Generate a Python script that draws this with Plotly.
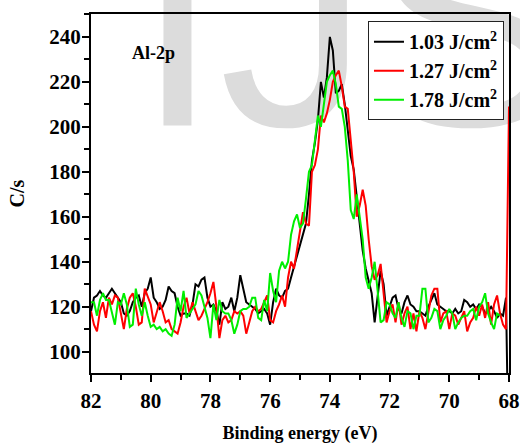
import numpy as np
import plotly.graph_objects as go

# Binding energy axis (eV), 0.1 eV steps from 82.0 down to 68.0
energy = [round(82.0 - 0.1 * i, 1) for i in range(141)]

series_names = ["1.03 J/cm<sup>2</sup>", "1.27 J/cm<sup>2</sup>", "1.78 J/cm<sup>2</sup>"]
series_colors = ["#000000", "#ff0000", "#00ee00"]

cps_103 = [
    118, 124, 125, 127, 125, 124, 126, 128, 126, 124,
    122, 117, 116, 118, 122, 124, 125, 120, 126, 128,
    133, 124, 122, 119, 120, 123, 129, 127, 126, 120,
    116, 117, 117, 116, 121, 130, 129, 132, 133, 124,
    120, 121, 118, 112, 122, 119, 120, 124, 118, 124,
    134, 128, 122, 121, 120, 119, 117, 118, 119, 117,
    112, 122, 128, 125, 124, 127, 128, 133, 138, 142,
    148, 153, 157, 170, 185, 193, 203, 220, 213, 222,
    240, 234, 215, 216, 219, 210, 198, 187, 181, 168,
    157, 145, 137, 131, 126, 113, 124, 136, 130, 116,
    120, 124, 125, 119, 117, 122, 125, 121, 120, 118,
    118, 117, 116, 120, 123, 126, 121, 120, 119, 118,
    118, 117, 119, 117, 118, 123, 122, 120, 121, 119,
    121, 120, 117, 118, 120, 118, 115, 117, 116, 124,
    40,
]

cps_127 = [
    118, 112, 109, 118, 122, 115, 124, 121, 125, 124,
    117, 110, 119, 124, 126, 120, 112, 113, 128, 124,
    121, 113, 118, 122, 118, 113, 114, 110, 109, 108,
    113, 120, 124, 117, 122, 118, 114, 116, 119, 122,
    126, 131, 120, 106, 114, 116, 113, 114, 118, 117,
    118, 116, 108, 113, 118, 120, 118, 119, 122, 125,
    114, 113, 118, 121, 125, 120, 133, 140, 137, 145,
    155, 162, 157, 156, 180, 183, 190, 205, 202, 206,
    212, 220, 223, 225, 218, 209, 208, 194, 180, 160,
    165, 172, 165, 150, 138, 132, 134, 139, 127, 113,
    118, 121, 113, 122, 112, 117, 120, 110, 117, 109,
    118, 115, 110, 118, 125, 128, 128, 113, 117, 118,
    110, 117, 116, 112, 115, 118, 109, 113, 115, 120,
    116, 121, 115, 122, 112, 121, 125, 117, 112, 110,
    209,
]

cps_178 = [
    122, 122, 116, 123, 126, 123, 123, 118, 112, 122,
    121, 126, 121, 111, 112, 128, 121, 116, 122, 116,
    111, 112, 110, 111, 109, 110, 108, 107, 112, 124,
    118, 127, 115, 117, 119, 121, 127, 125, 120, 115,
    106, 121, 114, 123, 118, 117, 117, 114, 108, 112,
    118, 119, 119, 120, 124, 124, 115, 114, 123, 118,
    135, 127, 122, 136, 140, 137, 140, 152, 158, 161,
    155, 157, 168, 180, 183, 195, 205, 200, 211, 220,
    223, 225, 219, 209, 208, 200, 185, 163, 159, 170,
    160, 150, 133, 128, 133, 140, 127, 113, 114, 122,
    121, 117, 115, 122, 115, 111, 118, 117, 110, 116,
    116, 128, 128, 113, 115, 119, 118, 110, 114, 116,
    119, 117, 110, 113, 115, 116, 116, 118, 119, 114,
    120, 122, 126, 117, 113, 110, 117, 116,
]

x_ticks = [82, 80, 78, 76, 74, 72, 70, 68]
y_ticks = [100, 120, 140, 160, 180, 200, 220, 240]

FONT = "Liberation Serif"

fig = go.Figure()

# background watermark (decoration)
fig.add_trace(go.Scatter(
    x=[80.5], y=[234.0], mode="text", text=["IJS"],
    textposition="middle right",
    textfont=dict(family="Liberation Sans", size=300, color="#dcdcdc"),
    cliponaxis=False, showlegend=False, hoverinfo="skip",
))

all_series = [cps_103, cps_127, cps_178]
for name, color, vals in zip(series_names, series_colors, all_series):
    fig.add_trace(go.Scatter(
        x=energy[:len(vals)], y=vals, mode="lines", name="<b>" + name + "</b>",
        line=dict(color=color, width=2),
    ))

axis_common = dict(
    showline=True, linecolor="black", linewidth=2, mirror=True,
    ticks="outside", ticklen=7, tickwidth=2, tickcolor="black",
    showgrid=False, zeroline=False, automargin=False,
    tickfont=dict(family=FONT, size=21, color="black"),
)

fig.update_xaxes(
    range=[82, 68], tickvals=x_ticks, ticktext=["<b>%d</b>" % v for v in x_ticks],
    minor=dict(dtick=1, ticks="outside", ticklen=5, tickwidth=2, tickcolor="black", showgrid=False),
    title=dict(text="<b>Binding energy (eV)</b>", font=dict(family=FONT, size=18, color="black"), standoff=14),
    ticklabelstandoff=1,
    **axis_common,
)
fig.update_yaxes(
    range=[90.5, 250.2], tickvals=y_ticks, ticktext=["<b>%d</b>" % v for v in y_ticks],
    minor=dict(dtick=10, ticks="outside", ticklen=5, tickwidth=2, tickcolor="black", showgrid=False),
    title=dict(text="<b>C/s</b>", font=dict(family=FONT, size=20, color="black"), standoff=19),
    ticklabelstandoff=-3,
    **axis_common,
)

fig.add_annotation(
    x=0.15, y=0.891, xref="paper", yref="paper", text="<b>Al-2p</b>",
    showarrow=False, xanchor="center", yanchor="middle",
    font=dict(family=FONT, size=18, color="black"),
)

fig.update_layout(
    width=520, height=447,
    margin=dict(l=91, r=11, t=14, b=74),
    paper_bgcolor="white", plot_bgcolor="rgba(0,0,0,0)",
    showlegend=True,
    legend=dict(
        x=0.988, y=0.98, xanchor="right", yanchor="top",
        bgcolor="white", bordercolor="#222222", borderwidth=1,
        font=dict(family=FONT, size=20, color="black"),
        tracegroupgap=0, itemwidth=30,
    ),
)

fig.write_html("out.html")
